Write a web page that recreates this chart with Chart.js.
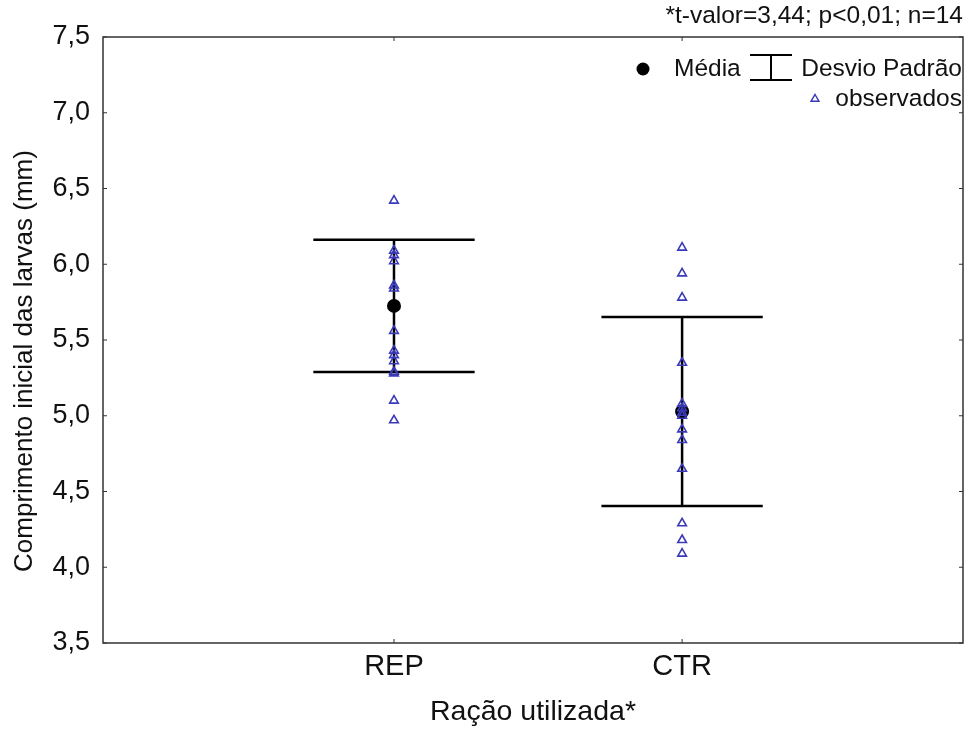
<!DOCTYPE html>
<html>
<head>
<meta charset="utf-8">
<script src="https://cdn.jsdelivr.net/npm/chart.js@4"></script>
<style>
  body { margin: 0; background: #fff; }
  #wrap { width: 976px; height: 729px; position: relative; }
</style>
</head>
<body>
<div id="wrap"><canvas id="grafico"></canvas></div>
<script>
// grupos (eixo x) e observações
const grupos = ['REP', 'CTR'];
const obsREP = [6.42, 6.09, 6.06, 6.02, 5.86, 5.84, 5.56, 5.43, 5.40, 5.36, 5.29, 5.28, 5.10, 4.97];
const obsCTR = [6.11, 5.94, 5.78, 5.35, 5.08, 5.05, 5.02, 5.00, 4.91, 4.84, 4.65, 4.29, 4.18, 4.09];
const medias = [5.725, 5.028];
const desvios = [0.437, 0.624];
const yTicks = [3.5, 4.0, 4.5, 5.0, 5.5, 6.0, 6.5, 7.0, 7.5];
const anotacao = '*t-valor=3,44; p<0,01; n=14';

const fonte = '"Liberation Sans", Arial, sans-serif';
const azul = '#3a3ab8';
const meiaLargura = 0.28; // metade da barra horizontal do desvio

// segmentos do desvio padrão (topo, base, vertical) para cada grupo
const barras = [];
medias.forEach((m, i) => {
    const x = i + 1;
    const sup = m + desvios[i], inf = m - desvios[i];
    [[{x: x - meiaLargura, y: sup}, {x: x + meiaLargura, y: sup}],
     [{x: x - meiaLargura, y: inf}, {x: x + meiaLargura, y: inf}],
     [{x: x, y: inf}, {x: x, y: sup}]].forEach(seg => {
        barras.push({
            type: 'line',
            data: seg,
            borderColor: '#000',
            borderWidth: 2.5,
            pointRadius: 0,
            fill: false,
            order: 3
        });
    });
});

const observados = [];
obsREP.forEach(v => observados.push({x: 1, y: v}));
obsCTR.forEach(v => observados.push({x: 2, y: v}));

// moldura, marcas internas, legenda e textos extras
const extras = {
    id: 'extras',
    afterDraw(chart) {
        const ctx = chart.ctx;
        const a = chart.chartArea;
        const sx = chart.scales.x, sy = chart.scales.y;
        ctx.save();
        ctx.strokeStyle = '#333';
        ctx.lineWidth = 1.5;
        ctx.strokeRect(a.left, a.top, a.right - a.left, a.bottom - a.top);

        ctx.lineWidth = 1;
        ctx.beginPath();
        sy.ticks.forEach(t => {
            const y = sy.getPixelForValue(t.value);
            ctx.moveTo(a.left, y); ctx.lineTo(a.left + 4, y);
            ctx.moveTo(a.right, y); ctx.lineTo(a.right - 4, y);
        });
        sx.ticks.forEach(t => {
            const x = sx.getPixelForValue(t.value);
            ctx.moveTo(x, a.bottom); ctx.lineTo(x, a.bottom - 4);
            ctx.moveTo(x, a.top); ctx.lineTo(x, a.top + 4);
        });
        ctx.stroke();

        // título do eixo y
        ctx.fillStyle = '#111';
        ctx.font = '26px ' + fonte;
        ctx.textAlign = 'center';
        ctx.textBaseline = 'middle';
        ctx.translate(25, 361);
        ctx.rotate(-Math.PI / 2);
        ctx.fillText('Comprimento inicial das larvas (mm)', 0, 0);
        ctx.restore();

        ctx.save();
        ctx.fillStyle = '#111';
        ctx.textBaseline = 'middle';
        ctx.textAlign = 'right';
        ctx.font = '24.5px ' + fonte;
        ctx.fillText(anotacao, a.right, 16);

        // legenda
        const l1 = a.top + 32, l2 = a.top + 62;
        ctx.fillText('Desvio Padrão', a.right - 1, l1);
        ctx.fillText('observados', a.right - 1, l2);
        ctx.textAlign = 'left';
        ctx.fillText('Média', a.right - 289, l1);
        ctx.beginPath();
        ctx.fillStyle = '#000';
        ctx.arc(a.right - 320, l1, 6.5, 0, Math.PI * 2);
        ctx.fill();
        ctx.strokeStyle = '#000';
        ctx.lineWidth = 2;
        const bx = a.right - 192;
        ctx.beginPath();
        ctx.moveTo(bx - 21, l1 - 14); ctx.lineTo(bx + 21, l1 - 14);
        ctx.moveTo(bx - 21, l1 + 11); ctx.lineTo(bx + 21, l1 + 11);
        ctx.moveTo(bx, l1 - 14); ctx.lineTo(bx, l1 + 11);
        ctx.stroke();
        const tx = a.right - 148, r = 4.5;
        ctx.strokeStyle = azul;
        ctx.lineWidth = 1.5;
        ctx.beginPath();
        ctx.moveTo(tx, l2 - r);
        ctx.lineTo(tx + r * 0.866, l2 + r / 2);
        ctx.lineTo(tx - r * 0.866, l2 + r / 2);
        ctx.closePath();
        ctx.stroke();
        ctx.restore();
    }
};

new Chart(document.getElementById('grafico'), {
    type: 'scatter',
    data: {
        datasets: [
            {
                label: 'observados',
                data: observados,
                pointStyle: 'triangle',
                pointRadius: 5,
                borderWidth: 1.6,
                borderColor: azul,
                backgroundColor: 'rgba(255,255,255,0)',
                order: 1
            },
            {
                label: 'Média',
                data: medias.map((m, i) => ({x: i + 1, y: m})),
                pointStyle: 'circle',
                pointRadius: 7,
                borderWidth: 0,
                backgroundColor: '#000',
                borderColor: '#000',
                order: 2
            },
            ...barras
        ]
    },
    options: {
        responsive: true,
        maintainAspectRatio: false,
        animation: false,
        layout: { padding: { top: 37, right: 13, left: 0, bottom: 0 } },
        plugins: {
            legend: { display: false },
            tooltip: { enabled: false }
        },
        scales: {
            x: {
                type: 'linear',
                min: -0.01,
                max: 2.975,
                afterBuildTicks: scale => { scale.ticks = grupos.map((g, i) => ({value: i + 1})); },
                afterFit: scale => { scale.height = 86; },
                grid: { display: false, drawTicks: false },
                border: { display: false },
                ticks: {
                    padding: 7,
                    color: '#111',
                    font: { family: fonte, size: 29 },
                    callback: v => grupos[v - 1]
                },
                title: {
                    display: true,
                    text: 'Ração utilizada*',
                    color: '#111',
                    font: { family: fonte, size: 28.5 },
                    padding: 0
                }
            },
            y: {
                min: 3.5,
                max: 7.5,
                afterBuildTicks: scale => { scale.ticks = yTicks.map(v => ({value: v})); },
                afterFit: scale => { scale.width = 103; },
                grid: { display: false, drawTicks: false },
                border: { display: false },
                ticks: {
                    padding: 13,
                    color: '#111',
                    font: { family: fonte, size: 27 },
                    callback: v => v.toFixed(1).replace('.', ',')
                }
            }
        }
    },
    plugins: [extras]
});
</script>
</body>
</html>
